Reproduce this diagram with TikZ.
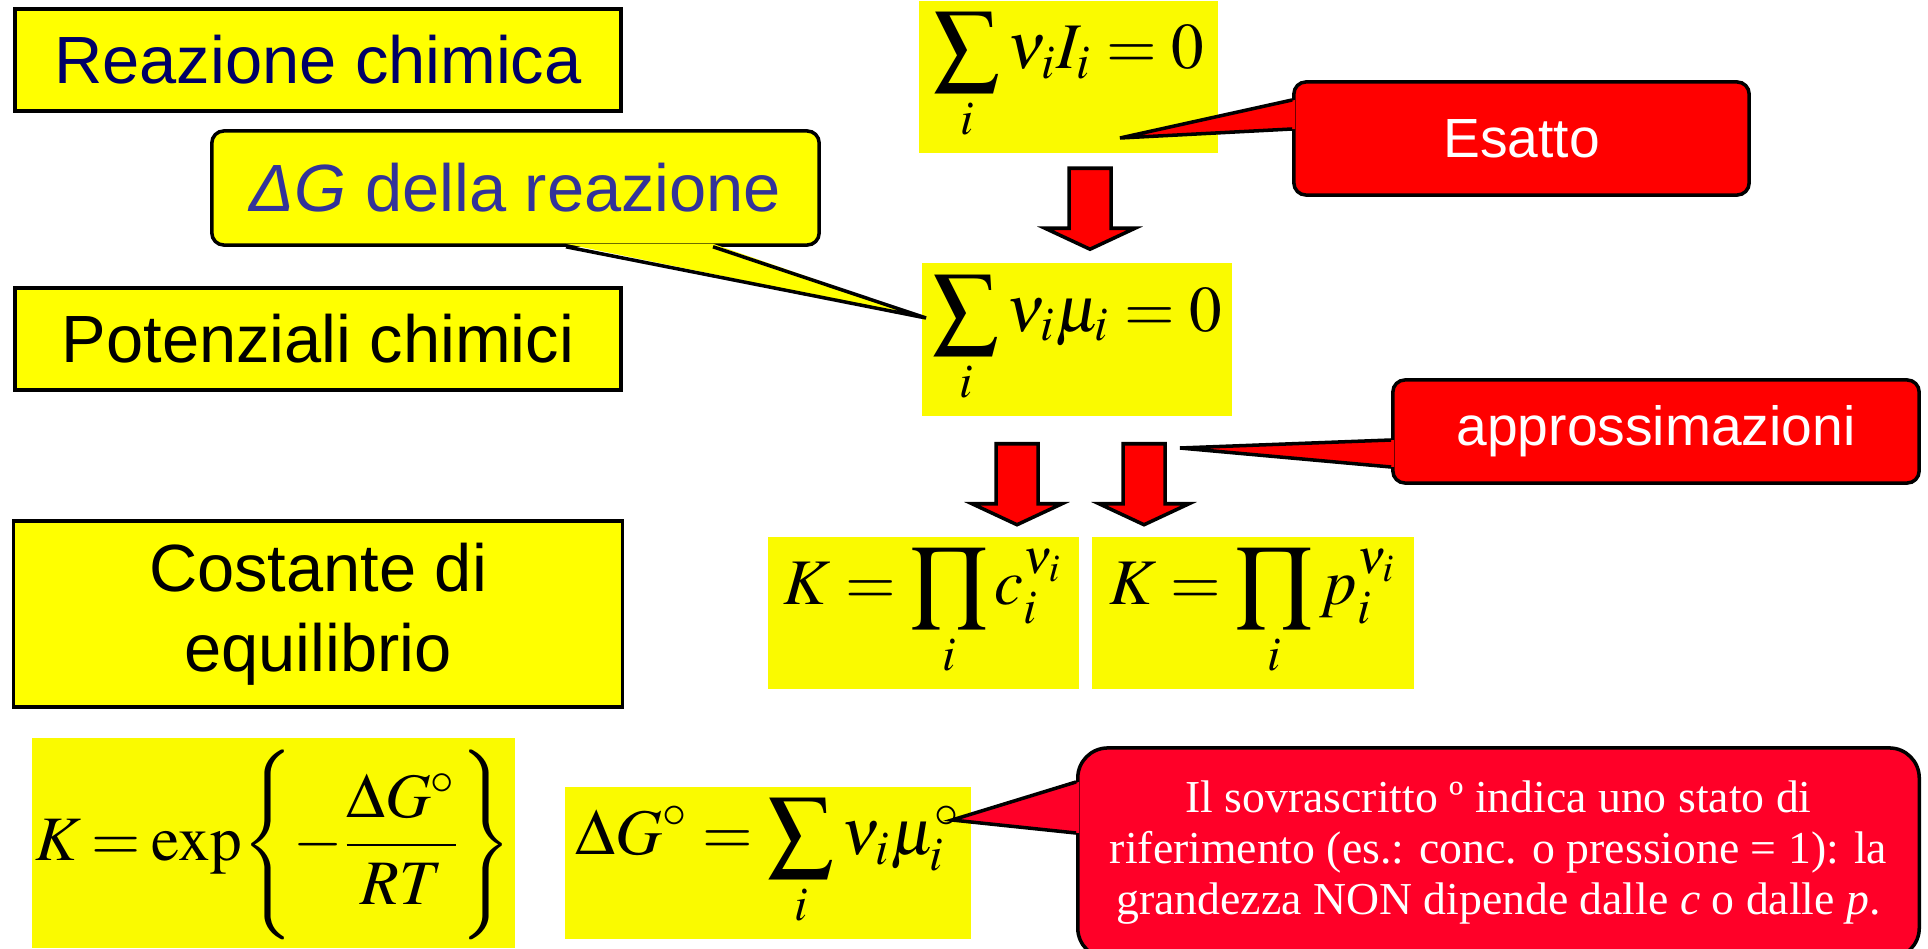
\documentclass[tikz,border=0pt]{standalone}
\usepackage{mathptmx}
\usepackage[no-math]{fontspec}
\setmainfont{Liberation Serif}
\newfontfamily\arialfont{Liberation Sans}
\usetikzlibrary{calc}
\usepackage{xcolor}
\definecolor{clrBox}{HTML}{FFFF00}
\definecolor{clrMath}{HTML}{FAFA00}
\definecolor{clrNavy}{HTML}{000066}
\definecolor{clrBlue}{HTML}{333399}
\definecolor{clrRed}{HTML}{FF0000}
\definecolor{clrNote}{HTML}{FF0028}

\begin{document}
\begin{tikzpicture}[x=0.01cm, y=-0.01cm,
  titlebox/.style={rectangle, draw=black, fill=clrBox, line width=1pt,
        font=\arialfont\fontsize{19}{22.8}\selectfont, inner sep=0pt, align=center},
  mathbox/.style={rectangle, fill=clrMath, inner sep=0pt,
        font=\fontsize{18.5}{22}\selectfont},
  callbox/.style={rectangle, rounded corners=0.12cm, draw=black, line width=1pt,
        inner sep=0pt, align=center},
  ptrside/.style={draw=black, line width=1pt, line join=miter},
  blockarrow/.pic={
    \draw[fill=clrRed, line width=1pt, line join=miter]
      (-21,0) -- (21,0) -- (21,60) -- (45,60) -- (0,81) -- (-45,60) -- (-21,60) -- cycle;}]
  \useasboundingbox (0,0) rectangle (1928,949);
  \clip (0,0) rectangle (1928,949);

  % left column
  \node[titlebox, minimum width=6.06cm, minimum height=1.02cm, text=clrNavy] (reaz) at (318,60) {Reazione chimica};
  \node[titlebox, minimum width=6.06cm, minimum height=1.02cm] (pot) at (318,339) {Potenziali chimici};
  \node[titlebox, minimum width=6.09cm, minimum height=1.86cm] (cost) at (318,614) {Costante di\\equilibrio};

  % formulas
  \node[mathbox, minimum width=2.99cm, minimum height=1.51cm] (sumI) at (1068.5,77)
    {$\displaystyle\sum_i \nu_i I_i = 0$};
  \node[mathbox, minimum width=3.10cm, minimum height=1.53cm] (sumMu) at (1077,339.5)
    {$\displaystyle\sum_i \nu_i \mu_i = 0$};
  \node[mathbox, minimum width=3.11cm, minimum height=1.52cm] (kc) at (923.5,613)
    {$\displaystyle K = \prod_i c_i^{\nu_i}$};
  \node[mathbox, minimum width=3.22cm, minimum height=1.52cm] (kp) at (1253,613)
    {$\displaystyle K = \prod_i p_i^{\nu_i}$};
  \node[mathbox, minimum width=4.83cm, minimum height=2.10cm, font=\fontsize{18}{22}\selectfont] (kexp) at (273.5,843)
    {$\thickmuskip=3mu\displaystyle K = \exp\!\left\{-\frac{\Delta G^\circ}{RT}\rule[-23pt]{0pt}{56pt}\right\}$};
  \node[mathbox, minimum width=4.06cm, minimum height=1.52cm] (dgzero) at (768,863)
    {$\displaystyle \Delta G^\circ = \sum_i \nu_i \mu_i^\circ$};

  % callouts
  \node[callbox, fill=clrBox, text=clrBlue, minimum width=6.07cm, minimum height=1.14cm,
        font=\arialfont\fontsize{19}{22.8}\selectfont] (dg) at (515.5,188)
    {\itshape ΔG\upshape{} della reazione};
  \coordinate (dgTip) at (926,318);
  \fill[clrBox] ($(dg.south)+(50.5,-3)$) -- (dgTip) -- ($(dg.south)+(197.5,-3)$) -- cycle;
  \draw[ptrside] ($(dg.south)+(50.5,0)$) -- (dgTip) -- ($(dg.south)+(197.5,0)$);

  \node[callbox, fill=clrRed, text=white, minimum width=4.55cm, minimum height=1.13cm,
        font=\arialfont\fontsize{15.7}{18}\selectfont] (esatto) at (1521.5,138.5) {Esatto};
  \coordinate (esTip) at (1120,138);
  \fill[clrRed] ($(esatto.west)+(3,-38.5)$) -- (esTip) -- ($(esatto.west)+(3,-9.5)$) -- cycle;
  \draw[ptrside] ($(esatto.west)+(0,-38.5)$) -- (esTip) -- ($(esatto.west)+(0,-9.5)$);

  \node[callbox, fill=clrRed, text=white, minimum width=5.26cm, minimum height=1.03cm,
        font=\arialfont\fontsize{15.7}{18}\selectfont] (approx) at (1656,431.5) {approssimazioni};
  \coordinate (apTip) at (1180,448);
  \fill[clrRed] ($(approx.west)+(3,8.5)$) -- (apTip) -- ($(approx.west)+(3,35.5)$) -- cycle;
  \draw[ptrside] ($(approx.west)+(0,8.5)$) -- (apTip) -- ($(approx.west)+(0,35.5)$);

  \node[callbox, rounded corners=0.3cm, fill=clrNote, text=white, minimum width=8.41cm,
        minimum height=2.10cm, font=\fontsize{13}{14.5}\selectfont] (note) at (1498.5,853)
    {Il sovrascritto º indica uno stato di\\riferimento (es.: conc. o pressione = 1): la\\
     grandezza NON dipende dalle \textit{c} o dalle \textit{p}.};
  \coordinate (noteTip) at (952,820);
  \fill[clrNote] ($(note.west)+(3,-71)$) -- (noteTip) -- ($(note.west)+(3,-20)$) -- cycle;
  \draw[ptrside] ($(note.west)+(0,-71)$) -- (noteTip) -- ($(note.west)+(0,-20)$);

  % block arrows
  \pic at ($(sumI.south)+(21.5,15)$) {blockarrow};
  \pic at ($(sumMu.south)+(-60,27)$) {blockarrow};
  \pic at ($(sumMu.south)+(67,27)$) {blockarrow};
\end{tikzpicture}
\end{document}
